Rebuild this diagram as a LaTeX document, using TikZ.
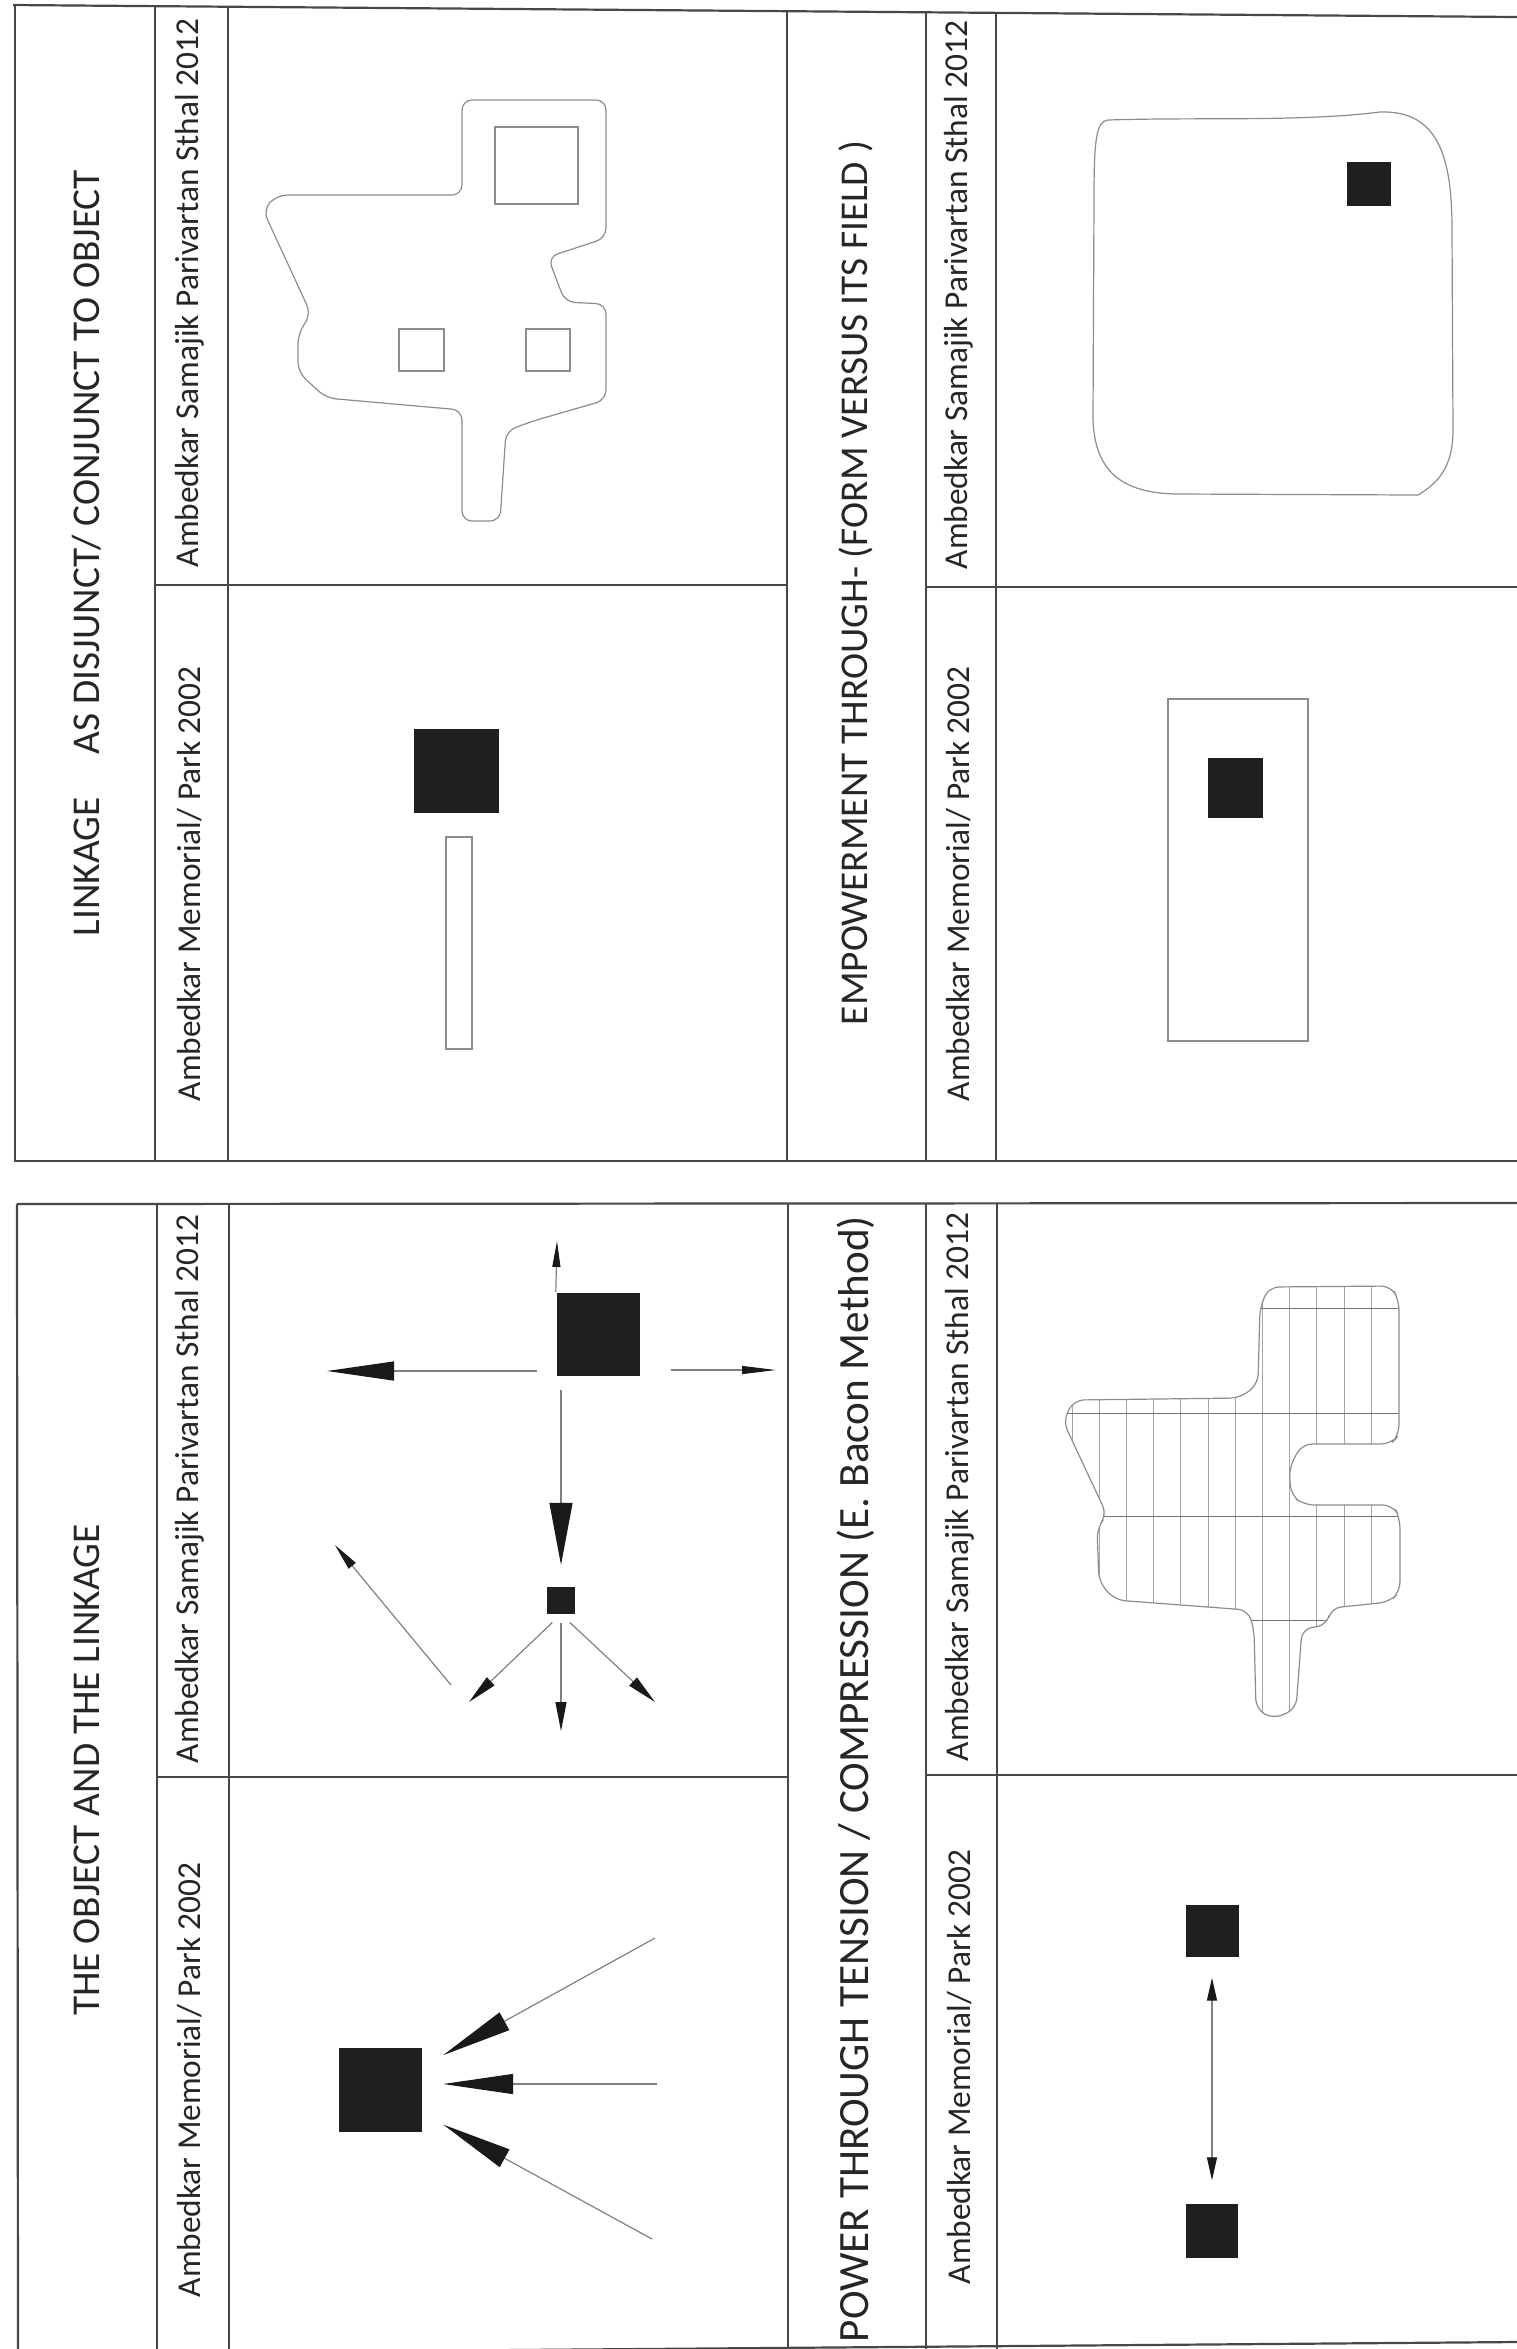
\documentclass[tikz,border=0pt]{standalone}
\usepackage{fontspec}
\setmainfont{Carlito}
\usetikzlibrary{arrows.meta}

\begin{document}
\begin{tikzpicture}[x=0.1mm, y=-0.1mm,
	every node/.style={text=black!85},
	rule/.style={draw=black!72, line width=0.22mm},
	outline/.style={draw=black!45, line width=0.12mm},
	hatch/.style={draw=black!35, line width=0.08mm},
	headtxt/.style={rotate=90, inner sep=0pt, font=\fontsize{11.2}{13}\selectfont},
	sitelbl/.style={rotate=90, anchor=west, inner sep=0pt, font=\fontsize{9.5}{11}\selectfont},
	block/.style 2 args={fill=black!88, inner sep=0pt, minimum width=#1, minimum height=#2},
	arr/.style 2 args={draw=black!50, line width=0.12mm, -{Triangle[length=#1, width=#2, color=black!90]}},
	dbl/.style={draw=black!50, line width=0.12mm, {Triangle[length=2.3mm, width=1mm, color=black!90]}-{Triangle[length=2.3mm, width=1mm, color=black!90]}}]
	\useasboundingbox (0,0) rectangle (1517,2349);
	\clip (0,0) rectangle (1517,2349);

	% upper sheet: linkage as disjunct / empowerment
	\draw[rule] (13,5) -- (1517,17);
	\draw[rule] (15,5) -- (15,1161) -- (1517,1161);
	\foreach \xa/\ya in {155/6, 228/7, 787/12, 926/13, 996/14} {
		\draw[rule] (\xa,\ya) -- (\xa,1161);
	}
	\draw[rule] (155,585) -- (787,585);
	\draw[rule] (926,587) -- (1517,587);
	\node[headtxt] (hdDis) at (87,553) {LINKAGE\hspace{1.1em}AS DISJUNCT/ CONJUNCT TO OBJECT};
	\node[headtxt] (hdEmp) at (856,583) {EMPOWERMENT THROUGH- (FORM VERSUS ITS FIELD )};
	\node[sitelbl] (lbDisS) at (190,568) {Ambedkar Samajik Parivartan Sthal 2012};
	\node[sitelbl] (lbDisM) at (190,1102) {Ambedkar Memorial/ Park 2002};
	\node[sitelbl] (lbEmpS) at (959,570) {Ambedkar Samajik Parivartan Sthal 2012};
	\node[sitelbl] (lbEmpM) at (959,1102) {Ambedkar Memorial/ Park 2002};

	% disjunct plan, Sthal
	\draw[outline, rounded corners=1mm] (462,195) -- (462,100) -- (606,100) -- (606,238) -- (548,257) -- (565,302) -- (606,304) -- (606,400) -- (533,421) -- (506,431) -- (500,521) -- (462,521) -- (462,410) -- (326,398) -- (298,372) -- (298,334) -- (311,314) -- (263,210) -- (277,195) -- cycle;
	\draw[outline] (495,127) rectangle (578,204);
	\draw[outline] (399,329) rectangle (444,371);
	\draw[outline] (526,329) rectangle (570,371);
	% disjunct, Memorial
	\node[block={8.5mm}{8.4mm}] (objDM) at (456,771) {};
	\draw[outline] (446,837) rectangle (472,1049);

	% field, Sthal
	\draw[outline] (1108,120) .. controls (1200,117) and (1300,122) .. (1380,112)
		.. controls (1440,110) and (1452,160) .. (1452,230) -- (1453,430)
		.. controls (1453,465) and (1440,482) .. (1418,495) -- (1180,494)
		.. controls (1120,494) and (1095,470) .. (1093,420) -- (1094,200)
		.. controls (1094,140) and (1096,121) .. (1108,120) -- cycle;
	\node[block={4.4mm}{4.4mm}] (objES) at (1369,184) {};
	% field, Memorial
	\draw[outline] (1168,699) rectangle (1308,1041);
	\node[block={5.5mm}{6mm}] (objEM) at (1235,788) {};

	% lower sheet: object and linkage / tension
	\draw[rule] (17,1204) -- (1517,1203);
	\draw[rule] (17,1204) -- (18,2349);
	\draw[rule] (18,2354) -- (1517,2342);
	\foreach \xa in {157, 229, 788, 926, 997} {
		\draw[rule] (\xa,1204) -- (\xa,2349);
	}
	\draw[rule] (157,1777) -- (788,1777);
	\draw[rule] (926,1775) -- (1517,1775);
	\node[headtxt] (hdObj) at (87,1770) {THE OBJECT AND THE LINKAGE};
	\node[headtxt, font=\fontsize{12.3}{14}\selectfont] (hdTen) at (856,1779) {POWER THROUGH TENSION / COMPRESSION (E. Bacon Method)};
	\node[sitelbl] (lbObjS) at (190,1764) {Ambedkar Samajik Parivartan Sthal 2012};
	\node[sitelbl] (lbObjM) at (190,2298) {Ambedkar Memorial/ Park 2002};
	\node[sitelbl] (lbTenS) at (960,1762) {Ambedkar Samajik Parivartan Sthal 2012};
	\node[sitelbl] (lbTenM) at (960,2285) {Ambedkar Memorial/ Park 2002};

	% linkage, Sthal
	\node[block={8.3mm}{8.3mm}] (bigS) at (598,1334) {};
	\node[block={2.8mm}{2.7mm}] (smallS) at (561,1600) {};
	\coordinate (upS) at (557,1241);
	\coordinate (leftS0) at (537,1371);
	\coordinate (leftS) at (327,1371);
	\coordinate (rightS0) at (671,1370);
	\coordinate (rightS) at (776,1370);
	\coordinate (downS) at (561,1731);
	\coordinate (dlS) at (469,1702);
	\coordinate (drS) at (655,1702);
	\coordinate (freeS0) at (451,1685);
	\coordinate (freeS) at (335,1545);
	\draw[arr={2.6mm}{0.8mm}] (bigS.north west) -- (upS);
	\draw[arr={6.7mm}{1.9mm}] (leftS0) -- (leftS);
	\draw[arr={3.4mm}{0.8mm}] (rightS0) -- (rightS);
	\draw[arr={6.2mm}{2.3mm}, shorten <=1.4mm, shorten >=2.1mm] (bigS.south -| smallS.north) -- (smallS.north);
	\draw[arr={2.9mm}{1.1mm}, shorten <=0.9mm] (smallS.south) -- (downS);
	\draw[arr={3mm}{1.1mm}, shorten <=1.2mm] (smallS.south) -- (dlS);
	\draw[arr={3mm}{1.1mm}, shorten <=1.2mm] (smallS.south) -- (drS);
	\draw[arr={2.7mm}{0.9mm}] (freeS0) -- (freeS);

	% linkage, Memorial
	\node[block={8.3mm}{8.4mm}] (bigM) at (380,2090) {};
	\coordinate (inA) at (655,1938);
	\coordinate (inB) at (657,2084);
	\coordinate (inC) at (652,2239);
	\draw[arr={7mm}{2mm}, shorten >=2.4mm] (inA) -- (bigM);
	\draw[arr={7mm}{2mm}, shorten >=2.1mm] (inB) -- (bigM.east |- inB);
	\draw[arr={7mm}{2mm}, shorten >=2.4mm] (inC) -- (bigM);

	% tension, Sthal (hatched plan)
	\begin{scope}[rounded corners=1mm]
		\clip (1269,1287) -- (1391,1286) -- (1399,1300) -- (1399,1435) -- (1391,1444) -- (1302,1444) -- (1289,1468) -- (1291,1495) -- (1304,1505) -- (1393,1505) -- (1400,1518) -- (1400,1592) -- (1389,1602) -- (1331,1608) -- (1327,1625) -- (1302,1629) -- (1296,1709) -- (1273,1719) -- (1256,1709) -- (1254,1629) -- (1248,1610) -- (1115,1600) -- (1099,1582) -- (1097,1528) -- (1107,1515) -- (1063,1421) -- (1074,1400) -- (1240,1398) -- (1258,1384) -- (1260,1307) -- cycle;
		\foreach \k in {0,...,11} {
			\draw[hatch] ({1072+27.2*\k},1280) -- ++(0,450);
		}
		\foreach \yy in {1308, 1413, 1516, 1620} {
			\draw[hatch, draw=black!55] (1050,\yy) -- (1410,\yy);
		}
	\end{scope}
	\draw[outline, rounded corners=1mm] (1269,1287) -- (1391,1286) -- (1399,1300) -- (1399,1435) -- (1391,1444) -- (1302,1444) -- (1289,1468) -- (1291,1495) -- (1304,1505) -- (1393,1505) -- (1400,1518) -- (1400,1592) -- (1389,1602) -- (1331,1608) -- (1327,1625) -- (1302,1629) -- (1296,1709) -- (1273,1719) -- (1256,1709) -- (1254,1629) -- (1248,1610) -- (1115,1600) -- (1099,1582) -- (1097,1528) -- (1107,1515) -- (1063,1421) -- (1074,1400) -- (1240,1398) -- (1258,1384) -- (1260,1307) -- cycle;

	% tension, Memorial
	\node[block={5.3mm}{5.2mm}] (topM) at (1212,1931) {};
	\node[block={5.2mm}{5.4mm}] (botM) at (1212,2231) {};
	\draw[dbl, shorten <=2mm, shorten >=2.3mm] (topM) -- (botM);
\end{tikzpicture}
\end{document}
